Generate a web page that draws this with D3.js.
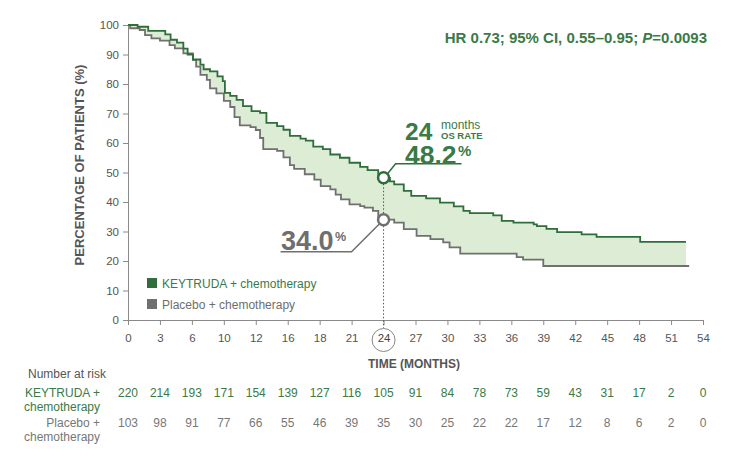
<!DOCTYPE html>
<html>
<head>
<meta charset="utf-8">
<script src="https://cdn.jsdelivr.net/npm/d3@7"></script>
<style>
  html, body { margin: 0; padding: 0; background: #fff; }
  svg { display: block; font-family: "Liberation Sans", Arial, sans-serif; }
</style>
</head>
<body>
<svg id="chart" width="740" height="462"></svg>
<script>
// ---------------- DATA ----------------
const keytrudaTimes = [0, 0.9, 1.9, 3.5, 4.0, 4.6, 5.2, 5.6, 6.1, 6.8, 7.1, 7.7, 8.4, 8.9, 9.1, 9.6, 10.2, 10.8, 11.6, 12.4, 13.0, 14.0, 14.6, 15.2, 16.2, 16.7, 17.4, 18.3, 19.0, 19.9, 20.8, 21.8, 22.5, 23.5, 24.0, 24.6, 25.0, 25.9, 26.6, 28.0, 29.3, 30.6, 31.5, 32.1, 34.3, 35.1, 36.2, 38.1, 38.4, 39.3, 40.3, 42.6, 44.0, 48.1];
const keytrudaSurv  = [100, 99.4, 98, 96.8, 95, 94, 92, 90, 88.3, 86.6, 85, 84.3, 82.6, 81, 77, 76, 74.6, 72.5, 70.8, 70.2, 66.8, 65.7, 64.5, 62.4, 61.5, 60.8, 58.8, 57.9, 56.1, 55, 53.3, 51.9, 50.8, 48.6, 48.2, 47, 46, 43.8, 42.1, 41.2, 39.8, 38.5, 37, 36.2, 35.5, 33.6, 33, 32.4, 31.8, 30.9, 29.8, 29, 28.2, 26.5];
const keytrudaEnd = 52.4;

const placeboTimes = [0, 0.2, 1.1, 1.6, 2.2, 3.0, 3.9, 4.4, 5.2, 6.1, 6.4, 6.8, 7.4, 7.7, 8.3, 9.0, 9.6, 10.0, 10.5, 11.5, 12.0, 12.4, 12.7, 14.0, 14.6, 15.2, 15.6, 16.6, 17.5, 18.1, 19.0, 19.5, 20.0, 20.8, 21.8, 22.2, 23.0, 23.5, 24.0, 25.0, 25.9, 27.1, 28.4, 29.6, 30.2, 31.2, 36.5, 37.1, 39.0];
const placeboSurv  = [100, 98.9, 98.3, 96.6, 95.5, 94.7, 93.2, 92.1, 90.4, 88.2, 85.9, 83.1, 81.4, 78.5, 76.8, 74.3, 72.2, 68.8, 66, 65.4, 64.4, 61.7, 57.9, 57.3, 55.1, 52.5, 51.2, 49.4, 47.6, 45.4, 44.3, 42.5, 40.9, 39.2, 38.6, 38.1, 37, 34.6, 34, 33, 30.8, 28.5, 27.4, 26.3, 24.6, 22.5, 21.3, 20.5, 18.3];
const placeboEnd = 52.7;

const xTickValues = [0, 3, 6, 9, 12, 15, 18, 21, 24, 27, 30, 33, 36, 39, 42, 45, 48, 51, 54];
const xTickLabels = ["0", "3", "6", "10", "12", "16", "18", "21", "24", "27", "30", "33", "36", "39", "42", "45", "48", "51", "54"];
const yTickValues = [0, 10, 20, 30, 40, 50, 60, 70, 80, 90, 100];

const riskKeytruda = [220, 214, 193, 171, 154, 139, 127, 116, 105, 91, 84, 78, 73, 59, 43, 31, 17, 2, 0];
const riskPlacebo  = [103, 98, 91, 77, 66, 55, 46, 39, 35, 30, 25, 22, 22, 17, 12, 8, 6, 2, 0];

const landmarkMonth = 24;
const landmarkKeytruda = 48.2;
const landmarkPlacebo = 34.0;

// ---------------- STYLE ----------------
const GREEN = "#2f6e3b";
const GREEN_TEXT = "#3b7a46";
const GREY = "#707070";
const FILL = "#dcecd5";
const TEXT = "#555";

const svg = d3.select("#chart");
const x = d3.scaleLinear().domain([0, 54]).range([128, 703]);
const y = d3.scaleLinear().domain([0, 100]).range([320, 25]);

function stepFn(times, surv) {
  return t => { let v = surv[0]; for (let i = 0; i < times.length; i++) { if (times[i] <= t) v = surv[i]; } return v; };
}
const gFn = stepFn(keytrudaTimes, keytrudaSurv);
const pFn = stepFn(placeboTimes, placeboSurv);

// shaded area between curves
const endFill = Math.min(keytrudaEnd, placeboEnd);
const merged = Array.from(new Set([...keytrudaTimes, ...placeboTimes, endFill])).filter(t => t <= endFill).sort((a, b) => a - b);
const areaData = merged.map(t => ({ t, g: gFn(t), p: pFn(t) }));
const area = d3.area().curve(d3.curveStepAfter)
  .x(d => x(d.t)).y0(d => y(d.p)).y1(d => y(d.g));
svg.append("path").datum(areaData).attr("d", area).attr("fill", FILL);

// axes
const xAxis = d3.axisBottom(x).tickValues(xTickValues).tickSize(5).tickPadding(9)
  .tickFormat((d, i) => xTickLabels[i]);
const gx = svg.append("g").attr("transform", "translate(0,320)").call(xAxis);
gx.selectAll("path, line").attr("stroke", "#8a8a8a");
gx.selectAll("text").attr("fill", TEXT).style("font-size", "11.5px").style("font-family", "'Liberation Sans', Arial, sans-serif");
gx.selectAll(".tick").filter(d => d === landmarkMonth).select("text").attr("fill", "#444");

const yAxis = d3.axisLeft(y).tickValues(yTickValues).tickSize(5).tickPadding(4);
const gy = svg.append("g").attr("transform", "translate(128,0)").call(yAxis);
gy.selectAll("path, line").attr("stroke", "#8a8a8a");
gy.selectAll("text").attr("fill", TEXT).style("font-size", "11.5px").style("font-family", "'Liberation Sans', Arial, sans-serif");

// circle around 24 on the x axis
svg.append("circle").attr("cx", x(landmarkMonth)).attr("cy", 340).attr("r", 11.5)
  .attr("fill", "none").attr("stroke", "#888").attr("stroke-width", 1);

// KM curves
function kmPoints(times, surv, end) {
  const pts = times.map((t, i) => [t, surv[i]]);
  pts.push([end, surv[surv.length - 1]]);
  return pts;
}
const line = d3.line().curve(d3.curveStepAfter).x(d => x(d[0])).y(d => y(d[1]));
svg.append("path").datum(kmPoints(placeboTimes, placeboSurv, placeboEnd)).attr("d", line)
  .attr("fill", "none").attr("stroke", GREY).attr("stroke-width", 1.8);
svg.append("path").datum(kmPoints(keytrudaTimes, keytrudaSurv, keytrudaEnd)).attr("d", line)
  .attr("fill", "none").attr("stroke", GREEN).attr("stroke-width", 1.8);

// dotted vertical line at 24 months
svg.append("line").attr("x1", x(landmarkMonth)).attr("x2", x(landmarkMonth))
  .attr("y1", y(landmarkKeytruda) + 6).attr("y2", 328)
  .attr("stroke", "#555").attr("stroke-width", 1).attr("stroke-dasharray", "1.5,2");

// leader lines
const gx24 = x(landmarkMonth), gy24 = y(landmarkKeytruda), py24 = y(landmarkPlacebo);
svg.append("polyline")
  .attr("points", `${gx24 + 4},${gy24 - 4} ${gx24 + 12},${gy24 - 14} ${gx24 + 78},${gy24 - 14}`)
  .attr("fill", "none").attr("stroke", GREEN).attr("stroke-width", 1.5);
svg.append("polyline")
  .attr("points", `${gx24 - 4},${py24 + 4} ${gx24 - 32},${py24 + 32} ${gx24 - 103},${py24 + 32}`)
  .attr("fill", "none").attr("stroke", GREY).attr("stroke-width", 1.5);

// landmark markers
svg.append("circle").attr("cx", gx24).attr("cy", gy24).attr("r", 5.5)
  .attr("fill", "#fff").attr("stroke", GREEN).attr("stroke-width", 2.5);
svg.append("circle").attr("cx", gx24).attr("cy", py24).attr("r", 5.5)
  .attr("fill", "#fff").attr("stroke", GREY).attr("stroke-width", 2.5);

// annotation text
const ann = svg.append("text").attr("fill", GREEN_TEXT).style("font-weight", "bold");
ann.append("tspan").attr("x", 405).attr("y", 140).style("font-size", "24.5px").text("24");
ann.append("tspan").attr("x", 441).attr("y", 128.5).style("font-size", "12px").style("font-weight", "normal").text("months");
ann.append("tspan").attr("x", 441).attr("y", 139).style("font-size", "9.5px").text("OS RATE");
ann.append("tspan").attr("x", 405).attr("y", 163.5).style("font-size", "26.5px").text(landmarkKeytruda.toFixed(1));
ann.append("tspan").attr("x", 458).attr("y", 156).style("font-size", "15px").text("%");

const annP = svg.append("text").attr("fill", "#6e6e6e").style("font-weight", "bold");
annP.append("tspan").attr("x", 281).attr("y", 250).style("font-size", "27px").text(landmarkPlacebo.toFixed(1));
annP.append("tspan").attr("x", 335).attr("y", 241).style("font-size", "12.5px").text("%");

// HR text
const hr = svg.append("text").attr("x", 707).attr("y", 43).attr("text-anchor", "end")
  .attr("fill", GREEN_TEXT).style("font-size", "15px").style("font-weight", "bold");
hr.append("tspan").text("HR 0.73; 95% CI, 0.55–0.95; ");
hr.append("tspan").style("font-style", "italic").text("P");
hr.append("tspan").text("=0.0093");

// axis titles
svg.append("text").attr("transform", "translate(84,165) rotate(-90)").attr("text-anchor", "middle")
  .attr("fill", TEXT).style("font-size", "13px").style("font-weight", "bold").text("PERCENTAGE OF PATIENTS (%)");
svg.append("text").attr("x", 368).attr("y", 368).attr("fill", TEXT)
  .style("font-size", "12px").style("font-weight", "bold").text("TIME (MONTHS)");

// legend
const legend = [
  { label: "KEYTRUDA + chemotherapy", color: GREEN, text: GREEN_TEXT, y: 278 },
  { label: "Placebo + chemotherapy", color: GREY, text: "#6e6e6e", y: 299 }
];
legend.forEach(d => {
  svg.append("rect").attr("x", 147).attr("y", d.y).attr("width", 10).attr("height", 10).attr("fill", d.color);
  svg.append("text").attr("x", 162).attr("y", d.y + 10).attr("fill", d.text).style("font-size", "12px").text(d.label);
});

// number at risk table
svg.append("text").attr("x", 28).attr("y", 378).attr("fill", TEXT).style("font-size", "12px").text("Number at risk");
const rowLabels = [
  { lines: ["KEYTRUDA +", "chemotherapy"], color: GREEN_TEXT, y: 397, values: riskKeytruda },
  { lines: ["Placebo +", "chemotherapy"], color: "#777", y: 427, values: riskPlacebo }
];
rowLabels.forEach(r => {
  r.lines.forEach((l, i) => {
    svg.append("text").attr("x", 100).attr("y", r.y + i * 14).attr("text-anchor", "end")
      .attr("fill", r.color).style("font-size", "12px").text(l);
  });
  svg.append("g").selectAll("text").data(r.values).join("text")
    .attr("x", (d, i) => x(xTickValues[i])).attr("y", r.y).attr("text-anchor", "middle")
    .attr("fill", r.color).style("font-size", "12px").text(d => d);
});
</script>
</body>
</html>
